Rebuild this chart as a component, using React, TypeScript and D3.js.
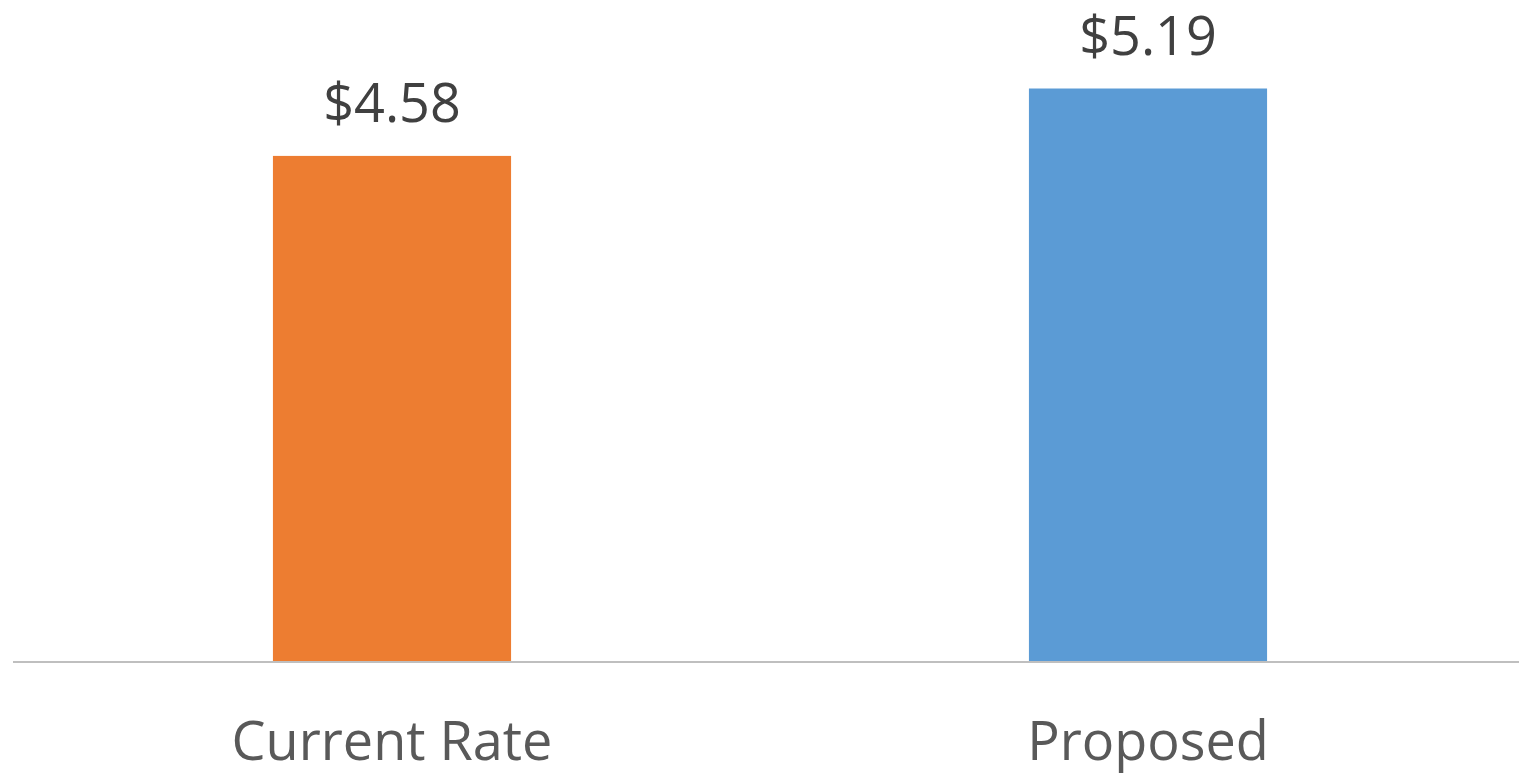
import React from 'react';
import * as d3 from 'd3';

const categories = ['Current Rate', 'Proposed'];
const values = [4.58, 5.19];
const barColors = ['#ED7D31', '#5B9BD5'];

const width = 1519;
const height = 774;
const baseY = 662;

const App: React.FC = () => {
  // Band scale spans slightly past the right edge, like the source chart
  const x = d3.scaleBand<string>()
    .domain(categories)
    .range([14, 1526])
    .paddingInner(0.685)
    .paddingOuter(0.3425);

  const y = d3.scaleLinear()
    .domain([0, 6])
    .range([baseY, baseY - 6 * 110.5]);

  const font = '"Open Sans", "Noto Sans", sans-serif';

  return (
    <svg
      width={width}
      height={height}
      style={{ position: 'absolute', left: 0, top: 0, background: '#fff' }}
    >
      {categories.map((c, i) => {
        const bx = x(c)!;
        const cx = bx + x.bandwidth() / 2;
        const top = y(values[i]);
        return (
          <g key={c}>
            <rect
              x={bx}
              y={top}
              width={x.bandwidth()}
              height={baseY - top}
              fill={barColors[i]}
            />
            <text
              x={cx}
              y={top - 34}
              textAnchor="middle"
              fontFamily={font}
              fontSize={54}
              fill="#404040"
            >
              {d3.format('$.2f')(values[i])}
            </text>
            <text
              x={cx}
              y={760}
              textAnchor="middle"
              fontFamily={font}
              fontSize={54}
              fill="#595959"
            >
              {c}
            </text>
          </g>
        );
      })}
      {/* category axis line */}
      <line x1={13} x2={width} y1={baseY} y2={baseY} stroke="#BFBFBF" strokeWidth={2} />
    </svg>
  );
};

export default App;
